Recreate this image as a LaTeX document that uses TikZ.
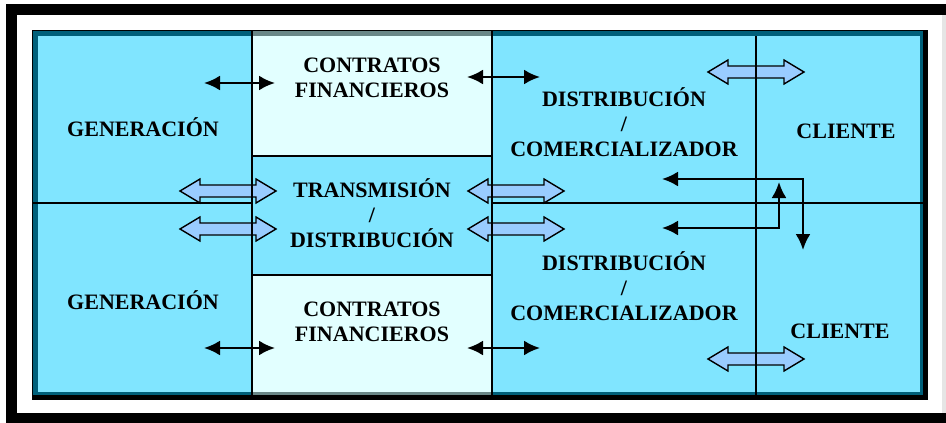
\documentclass[tikz,border=0pt]{standalone}
\usepackage{fontspec}
\setmainfont{Liberation Serif}
\usetikzlibrary{arrows.meta}
\definecolor{celeste}{RGB}{128,229,255}
\definecolor{celesteclaro}{RGB}{226,255,255}
\definecolor{borde}{RGB}{0,96,122}
\definecolor{bordegris}{RGB}{105,135,135}
\definecolor{azulflecha}{RGB}{153,204,255}

\begin{document}
\begin{tikzpicture}[x=1pt, y=-1pt,
    rotulo/.style={font=\bfseries\fontsize{22}{25}\selectfont, align=center, inner sep=0pt},
    linea/.style={line width=1.8pt},
    fina/.style={{Latex[length=16pt,width=15pt]}-{Latex[length=16pt,width=15pt]}, line width=2.4pt},
    gruesa/.style={draw=black, fill=azulflecha, line width=1.4pt, line join=miter}]
        \useasboundingbox (0,0) rectangle (946,423);
        % marco exterior
        \fill[black] (6,4) rectangle (946,423);
        \fill[white] (17,15) rectangle (942,413);
        \fill[gray!20] (942,15) rectangle (946,413);
        % caja
        \fill[black] (32,30) rectangle (928,400);
        \fill[borde] (33,31) rectangle (923,395);
        \fill[celeste] (38,36) rectangle (920,392);
        \fill[bordegris] (252,31) rectangle (492,395);
        \fill[celesteclaro] (252,36) rectangle (492,156);
        \fill[celesteclaro] (252,275) rectangle (492,392);
        \fill[celeste] (252,156) rectangle (492,275);
        %% flechas gruesas
        \foreach \cx/\cy in {228/191, 228/229, 516/191, 516/229, 756/72, 756/359}
          \draw[gruesa, shift={(\cx,\cy)}] (-48,0) -- (-28,-12) -- (-28,-6) -- (28,-6) -- (28,-12)
            -- (48,0) -- (28,12) -- (28,6) -- (-28,6) -- (-28,12) -- cycle;
        % divisiones
        \draw[linea] (252,31) -- (252,395);
        \draw[linea] (492,31) -- (492,395);
        \draw[linea] (756,36) -- (756,395);
        \draw[linea] (252,156) -- (492,156);
        \draw[linea] (252,275) -- (492,275);
        \draw[linea] (33,203) -- (252,203);
        \draw[linea] (492,203) -- (923,203);
        % textos
        \node[rotulo] (gen1) at (143,127) {GENERACIÓN};
        \node[rotulo] (gen2) at (143,300) {GENERACIÓN};
        \node[rotulo] (con1) at (372,78)  {CONTRATOS\\FINANCIEROS};
        \node[rotulo] (con2) at (372,322) {CONTRATOS\\FINANCIEROS};
        \node[rotulo] (trans) at (372,213) {TRANSMISIÓN\\/\\DISTRIBUCIÓN};
        \node[rotulo] (dis1) at (624,122) {DISTRIBUCIÓN\\/\\COMERCIALIZADOR};
        \node[rotulo] (dis2) at (624,286) {DISTRIBUCIÓN\\/\\COMERCIALIZADOR};
        \node[rotulo] (cli1) at (846,131) {CLIENTE};
        \node[rotulo] (cli2) at (840,331) {CLIENTE};
        % flechas finas
        \coordinate (g1) at (204,83);  \coordinate (c1) at (275,83);
        \coordinate (g2) at (204,348); \coordinate (c2) at (275,348);
        \coordinate (c3) at (467,77);  \coordinate (d1) at (540,77);
        \coordinate (c4) at (467,348); \coordinate (d2) at (540,348);
        \draw[fina] (g1) -- (c1);
        \draw[fina] (g2) -- (c2);
        \draw[fina] (c3) -- (d1);
        \draw[fina] (c4) -- (d2);
        \coordinate (d3) at (662,179); \coordinate (k1) at (803,250);
        \coordinate (d4) at (662,228); \coordinate (k2) at (779,182);
        \draw[fina] (d3) -| (k1);
        \draw[fina] (d4) -| (k2);
      \end{tikzpicture}
\end{document}
